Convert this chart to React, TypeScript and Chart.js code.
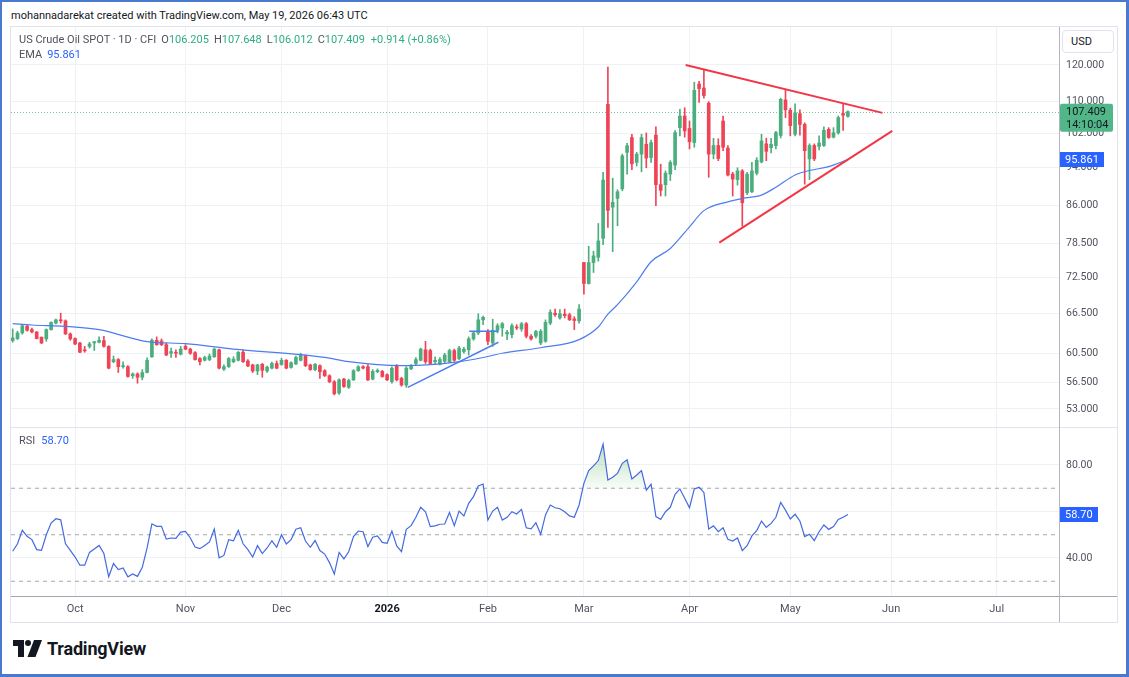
import React, { useEffect, useRef } from 'react';
import { Chart, registerables } from 'chart.js';

Chart.register(...registerables);

// ---------------- data ----------------
const opens = [
  62.35, 62.65, 63.5, 64.5, 64.0, 63.65, 62.85, 62.6, 64.0, 65.0,
  65.5, 65.35, 63.35, 62.65, 62.0, 61.0, 61.5, 62.0, 62.1, 62.35,
  61.5, 59.3, 59.6, 58.6, 58.6, 57.35, 57.6, 57.15, 57.8, 60.0,
  62.4, 62.3, 61.75, 60.5, 60.65, 60.35, 61.5, 61.1, 60.6, 59.75,
  59.5, 59.6, 60.0, 61.0, 58.25, 58.6, 59.3, 59.5, 60.65, 59.4,
  58.85, 58.0, 58.95, 58.0, 58.4, 59.05, 58.9, 59.5, 58.5, 59.0,
  59.5, 60.15, 58.85, 58.2, 58.75, 58.05, 57.35, 56.55, 55.05, 56.9,
  55.8, 56.8, 58.05, 58.6, 58.6, 56.9, 57.9, 57.95, 57.5, 56.55,
  58.75, 57.0, 56.1, 58.3, 59.05, 59.5, 61.0, 60.9, 59.3, 58.95,
  59.35, 59.3, 60.9, 59.75, 60.75, 61.0, 62.6, 63.5, 65.5, 63.75,
  62.0, 63.9, 64.25, 63.35, 63.25, 64.4, 64.1, 64.9, 63.0, 63.0,
  62.0, 62.25, 65.0, 66.55, 65.8, 66.4, 66.3, 65.65, 65.35, 75.05,
  71.4, 75.05, 76.0, 79.5, 109.3, 85.6, 87.4, 89.4, 97.5, 101.0,
  95.2, 97.1, 99.4, 96.3, 101.6, 90.3, 90.3, 92.6, 94.6, 103.4,
  106.3, 103.2, 99.8, 114.7, 113.6, 109.6, 97.1, 99.1, 105.05, 98.5,
  92.6, 91.4, 93.3, 88.6, 88.8, 92.8, 95.3, 99.5, 98.6, 99.1,
  101.5, 110.45, 107.75, 101.8, 106.9, 104.2, 96.0, 99.1, 98.9, 99.1,
  103.0, 101.1, 102.15, 106.95, 106.205,
];
const highs = [
  64.1, 63.75, 64.75, 64.7, 64.25, 63.7, 62.9, 64.1, 65.2, 65.6,
  66.55, 65.5, 63.5, 62.75, 62.1, 61.5, 62.1, 62.2, 62.9, 63.0,
  61.6, 60.1, 59.75, 59.3, 58.75, 57.75, 57.75, 58.2, 59.85, 62.6,
  62.9, 62.6, 62.0, 61.25, 61.0, 61.5, 61.75, 61.25, 60.75, 59.9,
  60.1, 60.4, 61.25, 61.1, 58.85, 59.9, 60.0, 60.75, 61.0, 59.6,
  58.95, 58.95, 59.05, 58.7, 59.25, 59.4, 59.8, 59.6, 59.3, 60.1,
  60.5, 60.25, 58.95, 59.05, 58.85, 58.2, 57.5, 56.7, 56.95, 57.0,
  56.9, 58.2, 58.75, 58.75, 58.9, 58.2, 58.3, 58.1, 57.6, 58.6,
  58.9, 57.15, 58.6, 58.9, 59.9, 61.25, 62.25, 61.1, 60.0, 59.9,
  60.5, 61.1, 61.1, 61.5, 61.35, 62.9, 63.75, 66.45, 66.1, 64.0,
  65.6, 64.9, 65.1, 63.9, 64.9, 64.75, 65.1, 65.1, 63.25, 63.9,
  64.0, 65.5, 67.1, 67.2, 67.1, 67.2, 66.55, 66.0, 67.9, 75.1,
  78.0, 77.1, 82.35, 93.0, 119.4, 91.7, 89.2, 97.1, 99.6, 101.8,
  97.5, 101.8, 102.1, 100.4, 103.6, 94.8, 93.3, 95.6, 102.7, 108.0,
  108.4, 105.05, 115.2, 115.45, 118.45, 110.0, 100.8, 100.7, 106.3, 99.1,
  93.0, 94.0, 93.6, 93.0, 95.2, 96.3, 101.8, 100.85, 100.8, 102.5,
  110.9, 113.0, 108.3, 109.4, 107.9, 104.6, 99.5, 99.5, 101.4, 103.6,
  103.4, 103.4, 106.3, 109.3, 107.648,
];
const lows = [
  62.1, 62.5, 63.3, 63.75, 63.5, 62.6, 61.9, 62.25, 63.9, 64.85,
  65.0, 63.25, 62.4, 61.75, 60.6, 60.65, 61.25, 60.9, 62.0, 61.4,
  58.3, 59.15, 57.8, 58.4, 57.15, 57.0, 56.35, 56.8, 57.75, 59.9,
  61.65, 61.6, 60.15, 59.9, 59.9, 60.25, 61.0, 60.35, 59.5, 58.85,
  59.4, 59.45, 59.9, 58.3, 58.1, 58.5, 59.15, 59.4, 59.2, 58.6,
  57.8, 57.5, 57.15, 57.8, 58.3, 58.3, 58.8, 58.3, 58.4, 58.9,
  59.4, 58.6, 58.1, 58.05, 57.0, 57.25, 56.4, 54.8, 54.85, 55.8,
  55.65, 56.7, 57.95, 58.3, 56.7, 56.8, 57.75, 57.15, 56.7, 56.35,
  56.65, 55.95, 55.8, 58.2, 58.9, 59.4, 59.05, 58.9, 59.0, 58.85,
  59.15, 59.15, 59.35, 59.6, 60.5, 60.25, 62.4, 63.25, 64.75, 61.75,
  61.5, 63.5, 63.0, 62.5, 62.75, 64.0, 63.75, 62.75, 62.4, 62.75,
  61.75, 62.1, 64.75, 66.05, 65.6, 65.8, 65.4, 64.0, 65.0, 69.6,
  71.3, 73.3, 75.3, 78.3, 81.6, 77.0, 81.9, 89.0, 92.6, 93.6,
  94.4, 93.1, 94.0, 95.2, 85.9, 87.9, 87.9, 91.2, 93.6, 101.4,
  101.1, 98.3, 98.7, 109.8, 110.9, 91.9, 96.0, 95.6, 97.9, 92.2,
  87.9, 90.2, 81.8, 88.2, 88.6, 92.4, 95.1, 95.6, 97.4, 98.3,
  100.9, 105.9, 101.4, 101.4, 101.6, 90.4, 91.4, 95.6, 98.1, 98.9,
  100.8, 100.9, 101.8, 102.75, 106.012,
];
const closes = [
  62.75, 63.5, 64.6, 63.9, 63.65, 62.65, 62.0, 64.0, 65.1, 65.5,
  65.35, 63.35, 62.6, 61.85, 60.65, 60.85, 61.85, 62.2, 62.4, 61.5,
  58.4, 59.6, 58.6, 58.75, 57.25, 57.6, 57.15, 57.8, 59.5, 62.4,
  61.75, 61.75, 60.25, 60.75, 60.5, 61.1, 61.1, 60.5, 59.6, 59.3,
  59.9, 60.1, 61.1, 58.4, 58.6, 59.75, 59.65, 60.65, 59.3, 58.7,
  58.0, 58.85, 58.1, 58.55, 59.05, 58.4, 59.5, 58.4, 59.15, 59.9,
  60.25, 58.75, 58.2, 58.95, 57.9, 57.35, 56.55, 54.95, 56.8, 55.9,
  56.7, 58.05, 58.6, 58.4, 56.8, 57.95, 58.1, 57.25, 56.8, 58.4,
  56.8, 56.1, 58.4, 58.7, 59.6, 61.1, 59.3, 59.05, 59.5, 59.6,
  60.25, 60.9, 59.5, 61.25, 61.1, 62.6, 63.5, 65.5, 65.9, 62.25,
  63.9, 64.6, 64.9, 63.6, 64.6, 64.25, 64.9, 63.0, 62.6, 63.7,
  63.75, 65.1, 66.7, 66.3, 66.45, 66.15, 65.5, 65.4, 67.2, 71.4,
  75.05, 76.25, 79.0, 91.3, 84.95, 86.6, 88.8, 96.7, 99.05, 94.9,
  97.1, 101.0, 96.2, 99.8, 90.3, 89.1, 92.8, 95.2, 102.2, 106.3,
  102.6, 100.0, 113.0, 113.45, 111.6, 97.1, 99.1, 96.1, 98.7, 92.4,
  91.5, 93.3, 86.5, 92.6, 93.3, 95.7, 100.2, 97.75, 99.4, 102.2,
  110.6, 107.9, 103.9, 107.1, 104.2, 97.9, 99.1, 96.0, 99.7, 102.75,
  101.0, 102.15, 105.9, 106.495, 107.409,
];

// EMA line, read at sample bars (bar index, value)
const emaIdx = [0, 4, 11, 18, 28, 36, 46, 60, 65, 70, 81, 87, 92, 98, 102, 110, 118, 122, 124, 126, 130, 133, 137, 141, 144, 149, 152, 156, 159, 163, 166, 170, 174];
const emaVal = [64.9, 64.7, 64.5, 64.0, 62.2, 61.9, 61.1, 60.3, 59.9, 59.3, 58.75, 58.9, 59.2, 59.9, 60.5, 61.3, 62.5, 64.4, 66.4, 67.9, 71.7, 75.2, 77.6, 81.7, 84.9, 86.7, 87.4, 88.1, 89.75, 92.4, 93.4, 94.25, 95.861];

// RSI per bar
const rsiValues = [
  42.9, 46.1, 51.9, 49.3, 47.9, 43.6, 43.3, 50.0, 55.0, 56.9,
  56.4, 46.1, 43.3, 40.4, 36.9, 36.9, 42.4, 43.9, 45.4, 41.9,
  31.9, 37.6, 35.0, 35.7, 31.9, 33.1, 32.1, 36.0, 44.3, 54.7,
  53.6, 53.6, 48.1, 48.6, 48.4, 51.1, 51.4, 48.6, 44.7, 44.0,
  45.4, 46.9, 52.4, 40.1, 41.1, 47.9, 47.4, 51.9, 46.1, 43.6,
  40.4, 45.3, 41.9, 44.3, 47.4, 44.6, 50.0, 46.0, 47.9, 52.4,
  53.0, 47.3, 44.6, 47.5, 43.2, 41.7, 38.0, 33.1, 42.4, 39.6,
  42.7, 49.2, 51.6, 51.3, 44.9, 48.9, 49.5, 46.7, 46.3, 51.6,
  45.2, 42.7, 52.3, 53.9, 57.5, 61.8, 59.9, 53.5, 53.8, 54.5,
  54.6, 59.6, 53.9, 60.2, 58.1, 63.5, 66.4, 71.0, 71.8, 56.3,
  60.2, 61.8, 56.3, 57.5, 59.9, 58.9, 60.9, 53.0, 52.5, 55.2,
  50.2, 58.5, 62.8, 61.6, 61.2, 59.9, 58.1, 57.5, 62.8, 72.1,
  77.6, 79.6, 81.9, 89.0, 73.5, 74.7, 76.4, 80.7, 82.2, 74.0,
  75.7, 77.6, 69.2, 71.7, 57.8, 56.6, 59.9, 61.8, 67.4, 69.7,
  65.7, 61.6, 69.7, 70.4, 68.2, 52.5, 53.8, 51.3, 53.0, 48.0,
  47.3, 48.6, 43.2, 45.3, 49.5, 51.8, 55.9, 53.2, 54.9, 57.5,
  63.9, 60.6, 56.8, 58.8, 55.9, 49.2, 50.2, 47.5, 51.3, 54.2,
  52.3, 53.5, 56.6, 57.5, 58.7,
];

// drawn trend lines (bar index, price)
const redUpperIdx = [140.2, 181.2];
const redUpperPrice = [120.0, 107.1];
const redLowerIdx = [147.2, 183.25];
const redLowerPrice = [78.7, 102.6];
const blueTrendIdx = [82.3, 101.2];
const blueTrendPrice = [55.8, 62.1];
const blueLevelIdx = [95.1, 101.2];
const blueLevelPrice = [63.75, 63.75];

// axes
const monthTickIdx = [13, 36, 56, 78, 99, 119, 141, 162, 183, 205];
const monthTickLabels = ['Oct', 'Nov', 'Dec', '2026', 'Feb', 'Mar', 'Apr', 'May', 'Jun', 'Jul'];
const priceTicks = [53, 56.5, 60.5, 66.5, 72.5, 78.5, 86, 94, 102, 110, 120];
const rsiTicks = [40, 60, 80];
const rsiLevels = [70, 50, 30];

const symbolTitle = 'US Crude Oil SPOT · 1D · CFI';
const changeText = '+0.914 (+0.86%)';
const countdownText = '14:10:04';
const headerText = 'mohannadarekat created with TradingView.com, May 19, 2026 06:43 UTC';

// ---------------- styles ----------------
const FONT = 'Roboto, "Liberation Sans", Arial, sans-serif';
const UP = '#4cae7e';
const DOWN = '#ef4456';
const GRID = '#eef1f6';
const AXIS_TXT = '#50535e';
const GREEN_TXT = '#2fae80';
const EMA_COLOR = '#4d7cf0';
const RSI_COLOR = '#4469e0';
const X_MIN = -0.354;
const X_MAX = 217.98;

function xScale(showLabels: boolean) {
  return {
    type: 'linear',
    min: X_MIN,
    max: X_MAX,
    offset: false,
    afterBuildTicks: (s: any) => {
      s.ticks = monthTickIdx.map((v) => ({ value: v }));
    },
    afterFit: (s: any) => {
      s.paddingLeft = 0;
      s.paddingRight = 0;
      s.height = showLabels ? 26 : 0;
    },
    grid: { color: GRID, drawTicks: false, offset: false, lineWidth: 1 },
    border: { display: false },
    ticks: {
      display: showLabels,
      autoSkip: false,
      maxRotation: 0,
      padding: 7,
      callback: (v: any) => {
        const k = monthTickIdx.indexOf(Number(v));
        return k >= 0 ? monthTickLabels[k] : '';
      },
      color: (c: any) => (c.tick && c.tick.label === '2026' ? '#131722' : AXIS_TXT),
      font: (c: any) => ({ family: FONT, size: 11, weight: c.tick && c.tick.label === '2026' ? 'bold' : 'normal' }),
    },
  };
}

function pts(xs: number[], ys: number[]) {
  return xs.map((x, k) => ({ x, y: ys[k] }));
}

export default function App() {
  const priceRef = useRef<HTMLCanvasElement>(null);
  const rsiRef = useRef<HTMLCanvasElement>(null);

  useEffect(() => {
    const last = closes.length - 1;
    const idx = closes.map((_, i) => i);
    const colors = idx.map((i) => (closes[i] >= opens[i] ? UP : DOWN));
    const emaLast = emaVal[emaVal.length - 1];
    const rsiLast = rsiValues[rsiValues.length - 1];

    const pricePlugin = {
      id: 'priceTags',
      beforeDatasetsDraw(chart: any) {
        const { ctx, chartArea, scales } = chart;
        const y = Math.round(scales.y.getPixelForValue(closes[last])) + 0.5;
        ctx.save();
        ctx.strokeStyle = 'rgba(76,174,126,0.75)';
        ctx.lineWidth = 1;
        ctx.setLineDash([1, 2]);
        ctx.beginPath();
        ctx.moveTo(chartArea.left, y);
        ctx.lineTo(chartArea.right, y);
        ctx.stroke();
        ctx.restore();
      },
      afterDraw(chart: any) {
        const { ctx, chartArea, scales } = chart;
        const x0 = chartArea.right;
        const yc = scales.y.getPixelForValue(closes[last]);
        const ye = scales.y.getPixelForValue(emaLast);
        ctx.save();
        ctx.font = `11px ${FONT}`;
        ctx.textBaseline = 'middle';
        ctx.textAlign = 'left';
        ctx.fillStyle = '#52b788';
        ctx.beginPath();
        ctx.roundRect(x0 + 1, yc - 8, 53, 28, 2);
        ctx.fill();
        ctx.fillStyle = '#131722';
        ctx.fillText(closes[last].toFixed(3), x0 + 7, yc + 0.5);
        ctx.fillText(countdownText, x0 + 7, yc + 14);
        ctx.fillStyle = '#2962ff';
        ctx.fillRect(x0, ye - 7.5, 45, 15);
        ctx.fillStyle = '#ffffff';
        ctx.fillText(emaLast.toFixed(3), x0 + 6, ye + 0.5);
        ctx.restore();
      },
    };

    const priceChart = new Chart(priceRef.current as HTMLCanvasElement, {
      type: 'bar',
      data: {
        datasets: [
          { type: 'line', data: pts(redUpperIdx, redUpperPrice), borderColor: '#f23645', borderWidth: 2, pointRadius: 0, order: 0 },
          { type: 'line', data: pts(redLowerIdx, redLowerPrice), borderColor: '#f23645', borderWidth: 2, pointRadius: 0, order: 0 },
          { type: 'line', data: pts(blueTrendIdx, blueTrendPrice), borderColor: '#4d7cf0', borderWidth: 1.5, pointRadius: 0, order: 0 },
          { type: 'line', data: pts(blueLevelIdx, blueLevelPrice), borderColor: '#4d7cf0', borderWidth: 1.5, pointRadius: 0, order: 0 },
          { type: 'line', data: pts(emaIdx, emaVal), borderColor: EMA_COLOR, borderWidth: 1.2, pointRadius: 0, cubicInterpolationMode: 'monotone', order: 1 },
          { type: 'bar', data: idx.map((i) => ({ x: i, y: [opens[i], closes[i]] })), backgroundColor: colors, barThickness: 3, grouped: false, minBarLength: 1, order: 2 },
          { type: 'bar', data: idx.map((i) => ({ x: i, y: [lows[i], highs[i]] })), backgroundColor: colors, barThickness: 1, grouped: false, order: 3 },
        ],
      } as any,
      options: {
        responsive: false,
        animation: false,
        events: [],
        layout: { padding: 0 },
        plugins: { legend: { display: false }, tooltip: { enabled: false } },
        scales: {
          x: xScale(false) as any,
          y: {
            type: 'logarithmic',
            position: 'right',
            min: 50.78,
            max: 131.33,
            afterBuildTicks: (s: any) => {
              s.ticks = priceTicks.map((v) => ({ value: v }));
            },
            afterFit: (s: any) => {
              s.width = 58;
              s.paddingTop = 0;
              s.paddingBottom = 0;
            },
            grid: { color: GRID, drawTicks: false },
            border: { display: false },
            ticks: {
              padding: 7,
              color: AXIS_TXT,
              font: { family: FONT, size: 10.5 },
              callback: (v: any) => Number(v).toFixed(3),
            },
          } as any,
        },
      },
      plugins: [pricePlugin],
    });

    const rsiCanvas = rsiRef.current as HTMLCanvasElement;
    const gctx = rsiCanvas.getContext('2d') as CanvasRenderingContext2D;
    const grad = gctx.createLinearGradient(0, 10, 0, 60);
    grad.addColorStop(0, 'rgba(76,175,80,0.42)');
    grad.addColorStop(1, 'rgba(76,175,80,0.04)');

    const rsiPlugin = {
      id: 'rsiTag',
      afterDraw(chart: any) {
        const { ctx, chartArea, scales } = chart;
        const y = scales.y.getPixelForValue(rsiLast);
        ctx.save();
        ctx.fillStyle = '#2962ff';
        ctx.fillRect(chartArea.right, y - 7.5, 39, 15);
        ctx.fillStyle = '#ffffff';
        ctx.font = `11px ${FONT}`;
        ctx.textBaseline = 'middle';
        ctx.fillText(rsiLast.toFixed(2), chartArea.right + 6, y + 0.5);
        ctx.restore();
      },
    };

    const rsiChart = new Chart(rsiCanvas, {
      type: 'line',
      data: {
        datasets: [
          {
            data: rsiValues.map((v, i) => ({ x: i, y: v })),
            borderColor: RSI_COLOR,
            borderWidth: 1.2,
            pointRadius: 0,
            fill: { target: { value: 70 }, above: grad, below: 'rgba(0,0,0,0)' },
            order: 0,
          },
          ...rsiLevels.map((lv) => ({
            data: [{ x: X_MIN, y: lv }, { x: X_MAX, y: lv }],
            borderColor: '#a3a6af',
            borderWidth: 1,
            borderDash: [4, 4],
            pointRadius: 0,
            fill: false,
            order: 1,
          })),
        ],
      } as any,
      options: {
        responsive: false,
        animation: false,
        events: [],
        layout: { padding: 0 },
        plugins: { legend: { display: false }, tooltip: { enabled: false } },
        scales: {
          x: xScale(true) as any,
          y: {
            type: 'linear',
            position: 'right',
            min: 23.65,
            max: 95.91,
            afterBuildTicks: (s: any) => {
              s.ticks = rsiTicks.map((v) => ({ value: v }));
            },
            afterFit: (s: any) => {
              s.width = 58;
              s.paddingTop = 0;
              s.paddingBottom = 0;
            },
            grid: { color: GRID, drawTicks: false },
            border: { display: false },
            ticks: {
              padding: 7,
              color: AXIS_TXT,
              font: { family: FONT, size: 10.5 },
              callback: (v: any) => (Number(v) === 60 ? '' : Number(v).toFixed(2)),
            },
          } as any,
        },
      },
      plugins: [rsiPlugin],
    });

    return () => {
      priceChart.destroy();
      rsiChart.destroy();
    };
  }, []);

  const last = closes.length - 1;
  const valStyle = { color: GREEN_TXT };
  const lblStyle = { color: AXIS_TXT, marginLeft: 5 };

  return (
    <div style={{ position: 'fixed', left: 0, top: 0, width: 1129, height: 677, background: '#ffffff', overflow: 'hidden', fontFamily: FONT }}>
      <div style={{ position: 'absolute', left: 11, top: 9, fontSize: 11, lineHeight: '14px', color: '#131722', whiteSpace: 'nowrap' }}>{headerText}</div>

      <div style={{ position: 'absolute', left: 10, top: 26, width: 1108, height: 597, border: '1px solid #e0e3eb', boxSizing: 'border-box' }} />

      <canvas ref={priceRef} width={1106} height={400} style={{ position: 'absolute', left: 11, top: 27, width: 1106, height: 400 }} />
      <div style={{ position: 'absolute', left: 11, top: 427, width: 1106, height: 1, background: '#e0e3eb' }} />
      <canvas ref={rsiRef} width={1106} height={194} style={{ position: 'absolute', left: 11, top: 428, width: 1106, height: 194 }} />
      <div style={{ position: 'absolute', left: 11, top: 596, width: 1106, height: 1, background: '#a3a6af' }} />
      <div style={{ position: 'absolute', left: 1059, top: 27, width: 1, height: 595, background: '#b2b5be' }} />

      <div style={{ position: 'absolute', left: 19, top: 33, fontSize: 11, lineHeight: '14px', whiteSpace: 'nowrap' }}>
        <span style={{ color: AXIS_TXT }}>{symbolTitle}</span>
        <span style={lblStyle}>O</span><span style={valStyle}>{opens[last].toFixed(3)}</span>
        <span style={lblStyle}>H</span><span style={valStyle}>{highs[last].toFixed(3)}</span>
        <span style={lblStyle}>L</span><span style={valStyle}>{lows[last].toFixed(3)}</span>
        <span style={lblStyle}>C</span><span style={valStyle}>{closes[last].toFixed(3)}</span>
        <span style={{ ...valStyle, marginLeft: 6 }}>{changeText}</span>
      </div>
      <div style={{ position: 'absolute', left: 19, top: 48, fontSize: 11, lineHeight: '14px', whiteSpace: 'nowrap' }}>
        <span style={{ color: AXIS_TXT }}>EMA</span>
        <span style={{ color: '#2962ff', marginLeft: 5 }}>{emaVal[emaVal.length - 1].toFixed(3)}</span>
      </div>
      <div style={{ position: 'absolute', left: 19, top: 434, fontSize: 11, lineHeight: '14px', whiteSpace: 'nowrap' }}>
        <span style={{ color: AXIS_TXT }}>RSI</span>
        <span style={{ color: '#2962ff', marginLeft: 6 }}>{rsiValues[rsiValues.length - 1].toFixed(2)}</span>
      </div>

      <div style={{ position: 'absolute', left: 1062, top: 30, width: 52, height: 23, border: '1px solid #e0e3eb', borderRadius: 4, boxSizing: 'border-box', fontSize: 11, lineHeight: '21px', color: '#131722', paddingLeft: 8, background: '#fff' }}>USD</div>

      <svg width="29" height="17" viewBox="0 0 29 17" style={{ position: 'absolute', left: 13, top: 640 }}>
        <path d="M0 0 H11 V17 H5 V6 H0 Z" fill="#131722" />
        <circle cx="15" cy="3" r="3" fill="#131722" />
        <path d="M21 0 H29 L22.5 17 H14.5 Z" fill="#131722" />
      </svg>
      <div style={{ position: 'absolute', left: 47, top: 639, fontSize: 18, fontWeight: 700, color: '#131722', letterSpacing: '-0.2px', lineHeight: '19px', whiteSpace: 'nowrap' }}>TradingView</div>

      <div style={{ position: 'absolute', left: 0, top: 0, width: 1129, height: 677, borderStyle: 'solid', borderColor: '#4a79cf', borderWidth: '2px 3px 3px 2px', boxSizing: 'border-box', pointerEvents: 'none' }} />
    </div>
  );
}
